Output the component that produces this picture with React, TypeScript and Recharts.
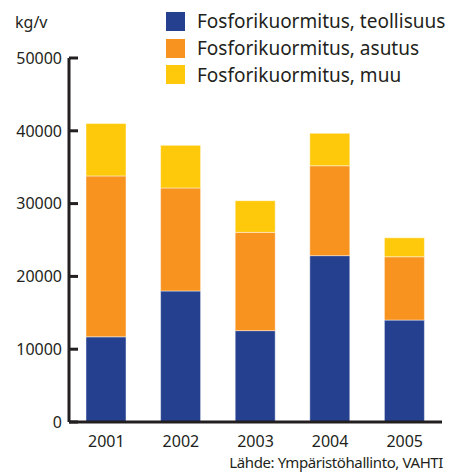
import { BarChart, Bar, XAxis, YAxis } from 'recharts';

const years = ['2001', '2002', '2003', '2004', '2005'];
const teollisuus = [11700, 18000, 12550, 22850, 14000];
const asutus = [22100, 14150, 13500, 12350, 8700];
const muu = [7200, 5850, 4350, 4450, 2600];
const yTicks = [0, 10000, 20000, 30000, 40000, 50000];

const series = [
  { key: 'teollisuus', label: 'Fosforikuormitus, teollisuus', color: '#25408f' },
  { key: 'asutus', label: 'Fosforikuormitus, asutus', color: '#f7931e' },
  { key: 'muu', label: 'Fosforikuormitus, muu', color: '#ffc90b' },
];

const data = years.map((year, i) => ({
  year,
  teollisuus: teollisuus[i],
  asutus: asutus[i],
  muu: muu[i],
}));

const FONT = '"Noto Sans", sans-serif';
const INK = '#231f20';

// y ticks point into the plot, so draw the tick line ourselves
const YTick = (props: any) => {
  const { x, y, payload } = props;
  return (
    <g>
      <line x1={x + 7} y1={y} x2={x + 16} y2={y} stroke={INK} strokeWidth={3} />
      <text x={x} y={y} dy="0.36em" textAnchor="end" fontSize={16} fontFamily={FONT} fill={INK}>
        {payload.value}
      </text>
    </g>
  );
};

export default function App() {
  return (
    <div style={{ position: 'absolute', left: 0, top: 0, width: 460, height: 474, overflow: 'hidden', background: '#fff' }}>
      <BarChart
        width={460}
        height={474}
        data={data}
        margin={{ top: 58, right: 18, left: 0, bottom: 0 }}
        barSize={40}
      >
        <XAxis
          dataKey="year"
          axisLine={{ stroke: INK, strokeWidth: 3 }}
          tickLine={false}
          tickSize={0}
          tickMargin={14}
          height={52}
          tick={{ fontSize: 16, fontFamily: FONT, fill: INK }}
        />
        <YAxis
          domain={[0, 50000]}
          ticks={yTicks}
          interval={0}
          width={69}
          axisLine={{ stroke: INK, strokeWidth: 3 }}
          tickLine={false}
          tickSize={0}
          tickMargin={7}
          tick={<YTick />}
        />
        {series.map((s) => (
          <Bar
            key={s.key}
            dataKey={s.key}
            stackId="a"
            fill={s.color}
            stroke="#ffffff"
            strokeOpacity={0.45}
            strokeWidth={1}
            isAnimationActive={false}
          />
        ))}
      </BarChart>

      {/* legend */}
      <div style={{ position: 'absolute', left: 166, top: 8, fontFamily: FONT, fontSize: 19, color: INK }}>
        {series.map((s) => (
          <div key={s.key} style={{ display: 'flex', alignItems: 'center', height: 26.7 }}>
            <span style={{ width: 19, height: 19, background: s.color, marginRight: 12, display: 'inline-block' }} />
            <span style={{ whiteSpace: 'nowrap' }}>{s.label}</span>
          </div>
        ))}
      </div>

      <div style={{ position: 'absolute', left: 15, top: 11, fontFamily: FONT, fontSize: 16, color: INK }}>kg/v</div>
      <div style={{ position: 'absolute', right: 17, top: 452, fontFamily: FONT, fontSize: 15, lineHeight: '20px', color: INK, whiteSpace: 'nowrap', letterSpacing: -0.4 }}>
        Lähde: Ympäristöhallinto, VAHTI
      </div>
    </div>
  );
}
